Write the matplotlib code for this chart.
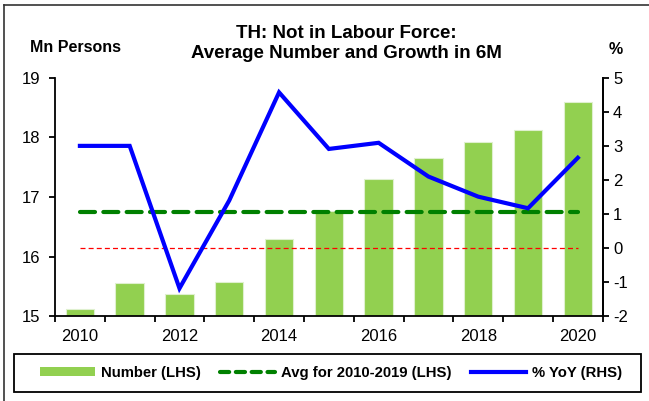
import numpy as np
import matplotlib.pyplot as plt
from matplotlib.lines import Line2D
from matplotlib.patches import Patch, Rectangle

plt.rcParams['font.family'] = ['Liberation Sans', 'DejaVu Sans']
plt.rcParams['axes.unicode_minus'] = False

# DATA
years = list(range(2010, 2021))
number_mn = [15.12, 15.55, 15.37, 15.58, 16.30, 16.76, 17.30, 17.66, 17.92, 18.13, 18.59]
yoy_pct = [3.0, 3.0, -1.18, 1.40, 4.57, 2.91, 3.09, 2.10, 1.51, 1.17, 2.65]
avg_2010_2019 = 16.75
tick_years = ['2010', '', '2012', '', '2014', '', '2016', '', '2018', '', '2020']

BAR_GREEN = '#92D050'
x = np.arange(len(years))

fig = plt.figure(figsize=(6.49, 4.01), dpi=100)
ax = fig.add_axes([55/649, 1 - 316.3/401, (602.7 - 55)/649, (316.3 - 77.7)/401])
ax2 = ax.twinx()

# bars on the left axis
ax.bar(x, number_mn, width=0.57, color=BAR_GREEN, edgecolor='#dff0cf', linewidth=0.8, zorder=2)
ax.plot([x[0], x[-1]], [avg_2010_2019, avg_2010_2019], color='#008000', lw=3,
        linestyle=(0, (3.6, 2.0)), dash_capstyle='round', zorder=3)

# lines on the right axis
ax2.plot([x[0], x[-1]], [0, 0], color='#FF0000', lw=0.9, linestyle=(0, (4, 2.5)), zorder=2)
ax2.plot(x, yoy_pct, color='#0000FF', lw=3, solid_joinstyle='miter', zorder=4)

# axes limits / ticks
ax.set_xlim(-0.5, 10.5)
ax.set_ylim(15, 19)
ax.set_yticks([15, 16, 17, 18, 19])
ax2.set_ylim(-2, 5)
ax2.set_yticks(range(-2, 6))

ax.set_xticks(np.arange(-0.5, 11, 1.0))
ax.set_xticklabels([])
ax.set_xticks(x, minor=True)
ax.set_xticklabels(tick_years, minor=True)
ax.tick_params(axis='x', which='minor', length=0, pad=9, labelsize=12)
ax.tick_params(axis='x', which='major', direction='out', length=4.5, width=1.3)
ax.tick_params(axis='y', direction='out', length=4.5, width=1.3, pad=6, labelsize=12)
ax2.tick_params(axis='y', direction='out', length=4.5, width=1.3, pad=3, labelsize=12)

for a in (ax, ax2):
    a.spines['top'].set_visible(False)
    for s in ('left', 'right', 'bottom'):
        a.spines[s].set_linewidth(1.3)
ax2.spines['left'].set_visible(False)
ax2.spines['bottom'].set_visible(False)

# titles and axis captions
fig.text(346/649, 1 - 34/401, 'TH: Not in Labour Force:', ha='center', va='center',
         fontsize=13.5, fontweight='bold')
fig.text(346/649, 1 - 53.5/401, 'Average Number and Growth in 6M', ha='center', va='center',
         fontsize=13.5, fontweight='bold')
fig.text(76/649, 1 - 47/401, 'Mn Persons', ha='center', va='center', fontsize=11.5, fontweight='bold')
fig.text(616/649, 1 - 50/401, '%', ha='center', va='center', fontsize=11.5, fontweight='bold')

# legend (frame drawn separately so it spans the full width)
handles = [Patch(facecolor=BAR_GREEN, edgecolor='none'),
           Line2D([], [], color='#008000', lw=3, linestyle=(0, (2.2, 1.6)), dash_capstyle='round'),
           Line2D([], [], color='#0000FF', lw=3)]
labels = ['Number (LHS)', 'Avg for 2010-2019 (LHS)', '% YoY (RHS)']
fig.legend(handles, labels, loc='center', ncol=3,
           bbox_to_anchor=(331/649, 1 - 373/401),
           frameon=False, handlelength=3.7, handleheight=0.5,
           prop={'weight': 'bold', 'size': 10.7},
           borderaxespad=0, borderpad=0, handletextpad=0.4, columnspacing=1.3)
fig.add_artist(Rectangle((14/649, 1 - 392/401), (641 - 14)/649, 38/401,
                         transform=fig.transFigure, fill=False, edgecolor='black', lw=1.3))

# outer frame lines (left and top border of the screenshot)
fig.add_artist(Line2D([3.5/649, 3.5/649], [0, 1 - 5/401], color='#333333', lw=1.2))
fig.add_artist(Line2D([3.5/649, 1], [1 - 5/401, 1 - 5/401], color='#333333', lw=1.2))

fig.savefig('out.png', dpi=100)
